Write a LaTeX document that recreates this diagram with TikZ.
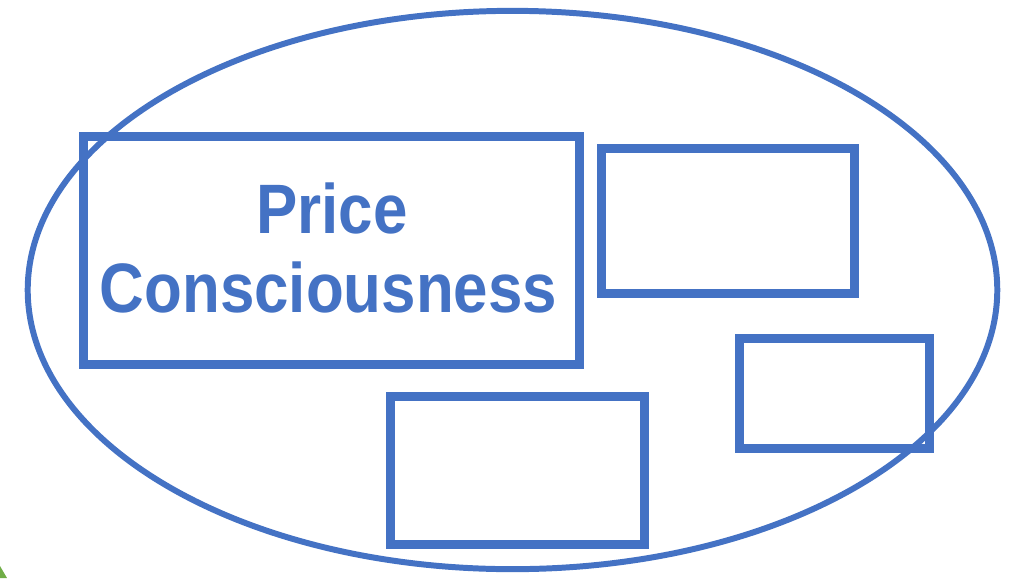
\documentclass[tikz,border=0pt]{standalone}
\usepackage{fontspec}
\usepackage{graphicx}
\setmainfont{Liberation Sans}
\usetikzlibrary{positioning,shapes.geometric}
\definecolor{ofblue}{HTML}{4472C4}
\definecolor{ofgreen}{HTML}{70AD47}
\newcommand{\narrowtxt}[1]{\scalebox{0.884}[1]{#1}}

\begin{document}
\begin{tikzpicture}[x=0.01cm, y=-0.01cm,
  factor/.style={draw=ofblue, line width=2.55pt, rectangle, inner sep=0pt, outer sep=0pt},
  label/.style={font=\bfseries\fontsize{19.9}{22}\selectfont, text=ofblue, inner sep=0pt, anchor=base}]
\useasboundingbox (0,0) rectangle (1017,578);
% outer set
\node[draw=ofblue, line width=1.7pt, ellipse, inner sep=0pt, minimum width=9.69cm, minimum height=5.58cm] (set) at (512.5,290) {};
% factors
\node[factor, minimum width=4.95cm, minimum height=2.27cm] (price) at (331.5,250.5) {};
\node[factor, minimum width=2.52cm, minimum height=1.44cm] (f2) at (728,221) {};
\node[factor, minimum width=1.89cm, minimum height=1.09cm] (f3) at (834.5,393.5) {};
\node[factor, minimum width=2.53cm, minimum height=1.47cm] (f4) at (517.5,470.5) {};
\node[label] (pricetxt) at (332,233) {\narrowtxt{Price}};
\node[label] (consctxt) at (328.5,312) {\narrowtxt{Consciousness}};
% corner mark
\fill[ofgreen] (0,566) -- (7,578) -- (0,578) -- cycle;
\end{tikzpicture}
\end{document}
